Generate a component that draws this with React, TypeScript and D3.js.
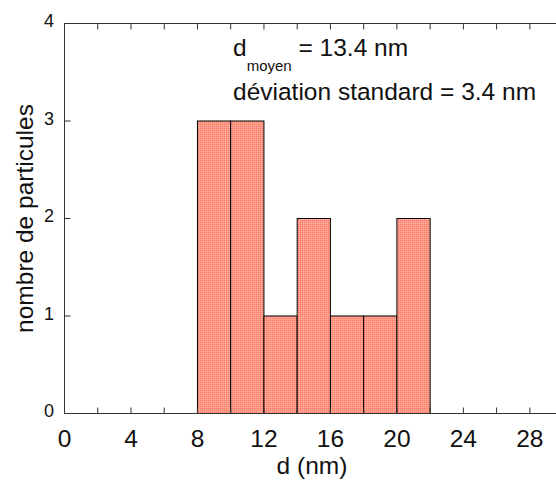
import React from "react";
import * as d3 from "d3";

const binStarts = [8, 10, 12, 14, 16, 18, 20];
const binWidth = 2;
const counts = [3, 3, 1, 2, 1, 1, 2];
const xTicksMajor = [0, 4, 8, 12, 16, 20, 24, 28];
const xTicksMinor = [2, 6, 10, 14, 18, 22, 26];
const yTicks = [0, 1, 2, 3, 4];
const xLabel = "d (nm)";
const yLabel = "nombre de particules";
const meanValue = "13.4";
const stdValue = "3.4";

const W = 556;
const H = 480;
const left = 64.5;
const top = 23.5;
const bottom = 413.5;
const font = "'Liberation Sans', Arial, Helvetica, sans-serif";

export default function App() {
  const x = d3.scaleLinear().domain([0, 28]).range([left, left + 28 * 16.62]);
  const y = d3.scaleLinear().domain([0, 4]).range([bottom, top]);
  const rightEdge = x(31);
  return (
    <svg
      width={W}
      height={H}
      style={{ position: "absolute", left: 0, top: 0, overflow: "hidden", background: "#fff" }}
      fontFamily={font}
    >
      <defs>
        <pattern id="dots" width="2" height="2" patternUnits="userSpaceOnUse">
          <rect width="2" height="2" fill="#ff9482" />
          <rect width="1" height="1" fill="#ff7f6a" />
          <rect x="1" y="1" width="1" height="1" fill="#ffb2a4" />
        </pattern>
      </defs>
      {binStarts.map((b, i) => (
        <rect
          key={i}
          x={x(b)}
          y={y(counts[i])}
          width={x(b + binWidth) - x(b)}
          height={y(0) - y(counts[i])}
          fill="url(#dots)"
          stroke="#000"
          strokeWidth={1}
        />
      ))}
      <path
        d={`M${rightEdge},${top}H${left}V${bottom}H${rightEdge}`}
        fill="none"
        stroke="#333"
        strokeWidth={1}
      />
      {[...xTicksMajor, ...xTicksMinor].map((t) => (
        <g key={"xt" + t}>
          <line x1={x(t)} x2={x(t)} y1={bottom} y2={bottom - 6} stroke="#333" />
          <line x1={x(t)} x2={x(t)} y1={top} y2={top + 6} stroke="#333" />
        </g>
      ))}
      {yTicks.map((t) => (
        <line key={"yt" + t} x1={left} x2={left + 6} y1={y(t)} y2={y(t)} stroke="#333" />
      ))}
      {xTicksMajor.map((t) => (
        <text key={"xl" + t} x={x(t)} y={447} fontSize={24.5} textAnchor="middle" fill="#111">
          {t}
        </text>
      ))}
      {yTicks.map((t) => (
        <text key={"yl" + t} x={54} y={y(t) + 3.5} fontSize={18} textAnchor="end" fill="#111">
          {t}
        </text>
      ))}
      <text x={312} y={474} fontSize={24.5} textAnchor="middle" fill="#111">
        {xLabel}
      </text>
      <text
        transform={`translate(33,${(top + bottom) / 2}) rotate(-90)`}
        fontSize={24.5}
        textAnchor="middle"
        fill="#111"
      >
        {yLabel}
      </text>
      <text x={233} y={56} fontSize={24.5} fill="#111">
        d
        <tspan fontSize={15} dy={15}>moyen</tspan>
        <tspan dy={-15}>{` = ${meanValue} nm`}</tspan>
      </text>
      <text x={233} y={100} fontSize={24.5} fill="#111">
        {`déviation standard = ${stdValue} nm`}
      </text>
    </svg>
  );
}
